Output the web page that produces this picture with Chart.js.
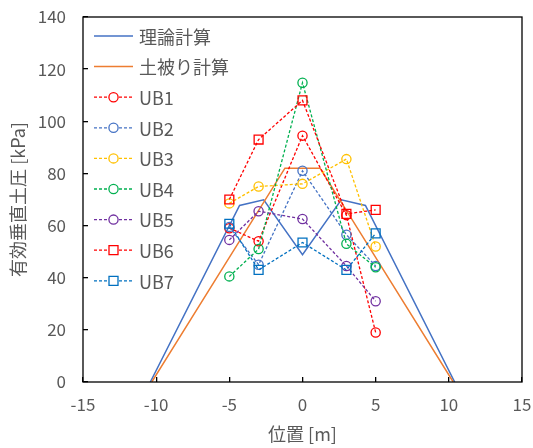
<!DOCTYPE html>
<html>
<head>
<meta charset="utf-8">
<script src="https://cdn.jsdelivr.net/npm/chart.js@4/dist/chart.umd.min.js"></script>
<style>
  html, body { margin: 0; padding: 0; background: #fff; }
  #wrap { width: 533px; height: 448px; }
</style>
</head>
<body>
<div id="wrap"><canvas id="pressure"></canvas></div>
<script>
// measurement positions [m]
var positions = [-5, -3, 0, 3, 5];
var ub1 = [59, 54, 94.5, 64, 19];
var ub2 = [59.5, 45, 81, 56.5, 44.5];
var ub3 = [68.5, 75, 76, 85.5, 52];
var ub4 = [40.5, 51, 114.8, 53, 44];
var ub5 = [54.5, 65.5, 62.5, 44.5, 31];
var ub6 = [70, 93, 108, 64.5, 66];
var ub7 = [60.7, 43, 53.5, 43, 57];

// calculated curves
var theoryX = [-10.4, -4.3, -2.65, 0, 2.65, 4.3, 10.4];
var theoryY = [0, 67.7, 69.9, 48.8, 69.9, 67.7, 0];
var coverX = [-10.3, -1.2, 1.2, 10.3];
var coverY = [0, 82, 82, 0];

var xTicks = [-15, -10, -5, 0, 5, 10, 15];
var yTicks = [0, 20, 40, 60, 80, 100, 120, 140];

var font = "'Noto Sans CJK JP', 'Noto Sans', sans-serif";
var textColor = '#595959';

function pts(xs, ys) {
  return xs.map(function(x, i) { return {x: x, y: ys[i]}; });
}

var series = [
  {label: '理論計算', xs: theoryX, ys: theoryY, color: '#4472C4', solid: true},
  {label: '土被り計算', xs: coverX, ys: coverY, color: '#ED7D31', solid: true},
  {label: 'UB1', xs: positions, ys: ub1, color: '#FF0000', style: 'circle'},
  {label: 'UB2', xs: positions, ys: ub2, color: '#4472C4', style: 'circle'},
  {label: 'UB3', xs: positions, ys: ub3, color: '#FFC000', style: 'circle'},
  {label: 'UB4', xs: positions, ys: ub4, color: '#00B050', style: 'circle'},
  {label: 'UB5', xs: positions, ys: ub5, color: '#7030A0', style: 'circle'},
  {label: 'UB6', xs: positions, ys: ub6, color: '#FF0000', style: 'rect'},
  {label: 'UB7', xs: positions, ys: ub7, color: '#0070C0', style: 'rect'}
];

var datasets = series.map(function(s, i) {
  return {
    label: s.label,
    data: pts(s.xs, s.ys),
    showLine: true,
    borderColor: s.color,
    backgroundColor: 'rgba(0,0,0,0)',
    borderWidth: s.solid ? 1.5 : 1.3,
    borderDash: s.solid ? [] : [3, 2],
    pointStyle: s.style || 'circle',
    pointRadius: s.solid ? 0 : (s.style === 'rect' ? 6.3 : 4.6),
    pointBorderWidth: 1.3,
    pointBorderColor: s.color,
    pointBackgroundColor: 'rgba(0,0,0,0)',
    order: series.length - i
  };
});

// box around the plot area
var boxPlugin = {
  id: 'box',
  afterDraw: function(chart) {
    var a = chart.chartArea, ctx = chart.ctx;
    ctx.save();
    ctx.strokeStyle = '#000';
    ctx.lineWidth = 1.3;
    ctx.strokeRect(a.left, a.top, a.right - a.left, a.bottom - a.top);
    ctx.restore();
  }
};

// legend with line + marker, drawn inside the plot
var legendPlugin = {
  id: 'lineLegend',
  afterDraw: function(chart) {
    var ctx = chart.ctx;
    var x0 = 94, x1 = 133, y = 36, step = 30.6;
    ctx.save();
    ctx.font = '18px ' + font;
    ctx.textBaseline = 'middle';
    series.forEach(function(s, i) {
      var yy = y + i * step;
      ctx.strokeStyle = s.color;
      ctx.lineWidth = s.solid ? 1.5 : 1.3;
      ctx.setLineDash(s.solid ? [] : [3, 2]);
      ctx.beginPath();
      ctx.moveTo(x0, yy);
      ctx.lineTo(x1, yy);
      ctx.stroke();
      ctx.setLineDash([]);
      if (!s.solid) {
        var cx = (x0 + x1) / 2;
        ctx.fillStyle = '#fff';
        ctx.beginPath();
        if (s.style === 'rect') ctx.rect(cx - 4.5, yy - 4.5, 9, 9);
        else ctx.arc(cx, yy, 4.6, 0, Math.PI * 2);
        ctx.fill();
        ctx.stroke();
      }
      ctx.fillStyle = textColor;
      ctx.fillText(s.label, 139, yy + 1);
    });
    ctx.restore();
  }
};

new Chart('pressure', {
  type: 'scatter',
  data: {datasets: datasets},
  plugins: [boxPlugin, legendPlugin],
  options: {
    responsive: true,
    maintainAspectRatio: false,
    animation: false,
    layout: {padding: {top: 17, right: 11, left: 0, bottom: 0}},
    plugins: {
      legend: {display: false},
      tooltip: {enabled: false}
    },
    scales: {
      x: {
        type: 'linear',
        min: -15,
        max: 15,
        afterBuildTicks: function(scale) {
          scale.ticks = xTicks.map(function(v) { return {value: v}; });
        },
        afterFit: function(scale) {
          scale.height = 66;
          scale.paddingLeft = 0;
          scale.paddingRight = 0;
        },
        border: {display: false},
        grid: {drawOnChartArea: false, tickLength: -5, color: '#000', lineWidth: 1.3},
        ticks: {color: textColor, font: {family: font, size: 17}, padding: 17, maxRotation: 0},
        title: {
          display: true,
          text: '位置 [m]',
          color: textColor,
          font: {family: font, size: 18},
          padding: {top: 0, bottom: 3}
        }
      },
      y: {
        type: 'linear',
        min: 0,
        max: 140,
        afterBuildTicks: function(scale) {
          scale.ticks = yTicks.map(function(v) { return {value: v}; });
        },
        afterFit: function(scale) {
          scale.width = 83;
          scale.paddingTop = 0;
          scale.paddingBottom = 0;
        },
        border: {display: false},
        grid: {drawOnChartArea: false, tickLength: -5, color: '#000', lineWidth: 1.3},
        ticks: {color: textColor, font: {family: font, size: 17}, padding: 22},
        title: {
          display: true,
          text: '有効垂直土圧 [kPa]',
          color: textColor,
          font: {family: font, size: 18},
          padding: {top: 7, bottom: 0}
        }
      }
    }
  }
});
</script>
</body>
</html>
